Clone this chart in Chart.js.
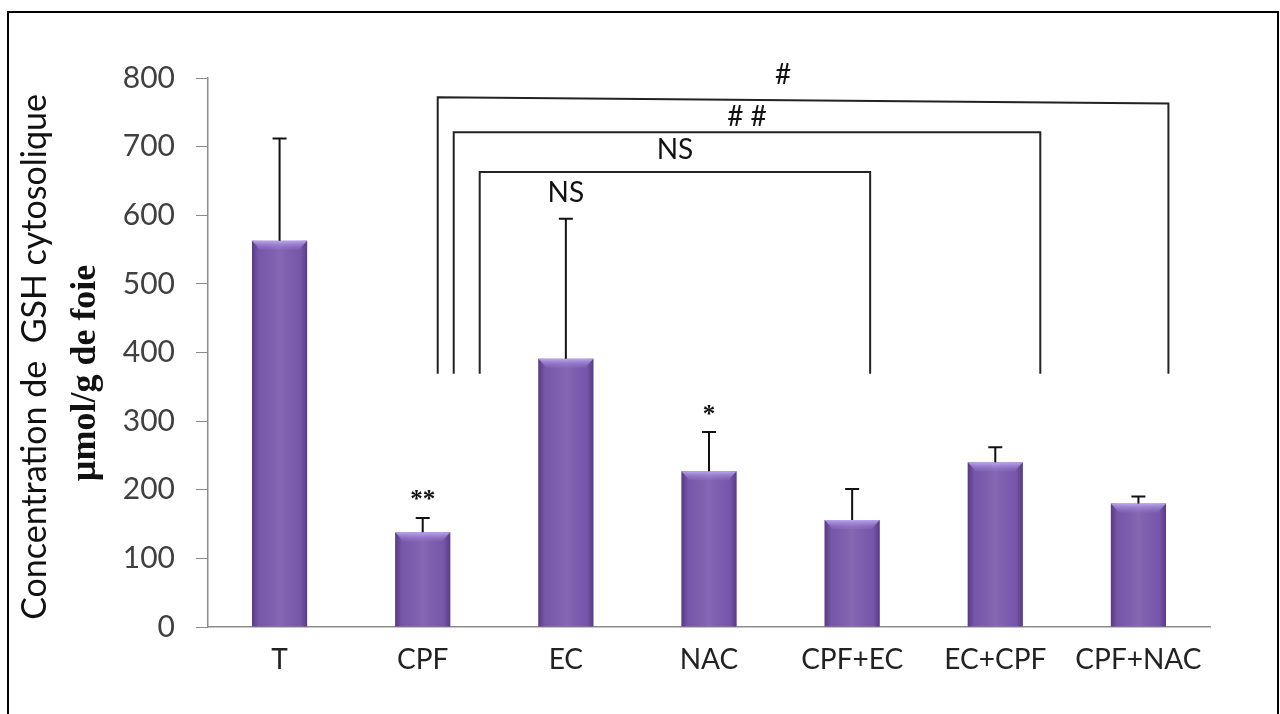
<!DOCTYPE html>
<html>
<head>
<meta charset="utf-8">
<script src="https://cdn.jsdelivr.net/npm/chart.js@4.4.0/dist/chart.umd.min.js"></script>
<style>
  html, body { margin: 0; padding: 0; background: #fff; overflow: hidden; }
  #wrap { position: relative; width: 1280px; height: 714px; }
  #frame { position: absolute; left: 7px; top: 11px; width: 1268px; height: 720px;
           border: 2px solid #000; border-bottom: none; pointer-events: none; }
</style>
</head>
<body>
<div id="wrap">
  <canvas id="gshChart" width="1280" height="714"></canvas>
  <div id="frame"></div>
</div>
<script>
const groups = ['T', 'CPF', 'EC', 'NAC', 'CPF+EC', 'EC+CPF', 'CPF+NAC'];
const gshMeans = [563, 138, 391, 227, 156, 240, 180];
const gshErrors = [149, 21, 204, 57, 45, 22, 10];
const starMarks = ['', '**', 'NS', '*', '', '', ''];
const yTicks = [0, 100, 200, 300, 400, 500, 600, 700, 800];

// comparison brackets: from group, to group, top level (left, right), bottom level, label
const brackets = [
    { from: 1, to: 6, top: [772, 763], bottom: 369, label: '#' },
    { from: 1, to: 5, top: [721, 721], bottom: 369, label: '# #' },
    { from: 1, to: 4, top: [663, 663], bottom: 369, label: 'NS' }
];

// pixel nudges so the bracket legs do not sit on each other
const legOffsets = [[15, 30], [31, 45], [57, 18]];

const bevelPlugin = {
    id: 'bevel',
    afterDatasetsDraw(chart) {
        const ctx = chart.ctx;
        chart.getDatasetMeta(0).data.forEach(bar => {
            const w = bar.width;
            const left = bar.x - w / 2;
            const top = bar.y;
            const h = bar.base - bar.y;
            ctx.save();
            const g = ctx.createLinearGradient(left, 0, left + w, 0);
            g.addColorStop(0, 'rgba(45,20,80,0.45)');
            g.addColorStop(0.12, 'rgba(45,20,80,0.05)');
            g.addColorStop(0.5, 'rgba(255,255,255,0.08)');
            g.addColorStop(0.88, 'rgba(45,20,80,0.05)');
            g.addColorStop(1, 'rgba(45,20,80,0.45)');
            ctx.fillStyle = g;
            ctx.fillRect(left, top, w, h);
            // top bevel
            const bh = Math.min(9, h);
            const tg = ctx.createLinearGradient(0, top, 0, top + bh);
            tg.addColorStop(0, 'rgba(190,170,240,0.95)');
            tg.addColorStop(1, 'rgba(150,120,210,0.2)');
            ctx.fillStyle = tg;
            ctx.beginPath();
            ctx.moveTo(left, top);
            ctx.lineTo(left + w, top);
            ctx.lineTo(left + w - 8, top + bh);
            ctx.lineTo(left + 8, top + bh);
            ctx.closePath();
            ctx.fill();
            ctx.restore();
        });
    }
};

const errorPlugin = {
    id: 'errors',
    afterDatasetsDraw(chart) {
        const ctx = chart.ctx;
        const y = chart.scales.y;
        ctx.save();
        ctx.strokeStyle = '#111';
        ctx.lineWidth = 2;
        chart.getDatasetMeta(0).data.forEach((bar, i) => {
            const yTop = y.getPixelForValue(gshMeans[i] + gshErrors[i]);
            ctx.beginPath();
            ctx.moveTo(bar.x, bar.y);
            ctx.lineTo(bar.x, yTop);
            ctx.moveTo(bar.x - 7, yTop);
            ctx.lineTo(bar.x + 7, yTop);
            ctx.stroke();
            if (starMarks[i]) {
                ctx.fillStyle = '#111';
                ctx.textAlign = 'center';
                ctx.textBaseline = 'middle';
                ctx.font = starMarks[i] === 'NS' ? '28px Lato' : 'bold 25px "Liberation Serif"';
                ctx.fillText(starMarks[i], bar.x, yTop - (starMarks[i] === 'NS' ? 26 : 17));
            }
        });
        ctx.restore();
    }
};

const bracketPlugin = {
    id: 'brackets',
    afterDraw(chart) {
        const ctx = chart.ctx;
        const x = chart.scales.x;
        const y = chart.scales.y;
        ctx.save();
        ctx.strokeStyle = '#222';
        ctx.lineWidth = 2;
        ctx.fillStyle = '#111';
        ctx.font = '28px Lato';
        ctx.textAlign = 'center';
        ctx.textBaseline = 'middle';
        brackets.forEach((b, k) => {
            const x1 = x.getPixelForValue(b.from) + legOffsets[k][0];
            const x2 = x.getPixelForValue(b.to) + legOffsets[k][1];
            const yL = y.getPixelForValue(b.top[0]);
            const yR = y.getPixelForValue(b.top[1]);
            const yB = y.getPixelForValue(b.bottom);
            ctx.beginPath();
            ctx.moveTo(x1, yB);
            ctx.lineTo(x1, yL);
            ctx.lineTo(x2, yR);
            ctx.lineTo(x2, yB);
            ctx.stroke();
            const mid = (x1 + x2) / 2 - (k === 0 ? 20 : 0);
            ctx.fillText(b.label, mid, Math.min(yL, yR) - (k === 1 ? 15 : 22));
        });
        ctx.restore();
    }
};

const titlePlugin = {
    id: 'yTitle',
    afterDraw(chart) {
        const ctx = chart.ctx;
        ctx.save();
        ctx.fillStyle = '#111';
        ctx.textAlign = 'center';
        ctx.textBaseline = 'middle';
        ctx.translate(35, 357);
        ctx.rotate(-Math.PI / 2);
        ctx.font = '34px Lato';
        ctx.fillText('Concentration de  GSH cytosolique', 0, 0);
        ctx.restore();
        ctx.save();
        ctx.fillStyle = '#111';
        ctx.textAlign = 'center';
        ctx.textBaseline = 'middle';
        ctx.translate(86, 373);
        ctx.rotate(-Math.PI / 2);
        ctx.font = 'bold 36px "Liberation Serif"';
        ctx.fillText('µmol/g de foie', 0, 0);
        ctx.restore();
    }
};

new Chart(document.getElementById('gshChart'), {
    type: 'bar',
    data: {
        labels: groups,
        datasets: [{
            data: gshMeans,
            backgroundColor: '#7b5aae',
            borderWidth: 0,
            barPercentage: 0.385,
            categoryPercentage: 1
        }]
    },
    options: {
        responsive: false,
        animation: false,
        layout: { padding: { left: 0, top: 78, right: 70, bottom: 0 } },
        plugins: { legend: { display: false }, tooltip: { enabled: false } },
        scales: {
            x: {
                grid: { display: false },
                border: { display: true, color: '#8c8c8c', width: 1.5 },
                ticks: { color: '#222', font: { family: 'Lato', size: 28 }, padding: 8, maxRotation: 0 },
                afterFit(scale) { scale.height = 87; }
            },
            y: {
                min: 0,
                max: 800,
                afterBuildTicks(scale) { scale.ticks = yTicks.map(v => ({ value: v })); },
                grid: { drawOnChartArea: false, drawTicks: true, tickLength: 12, color: '#8c8c8c' },
                border: { display: true, color: '#8c8c8c', width: 1.5 },
                ticks: { color: '#404040', font: { family: 'Lato', size: 30 }, padding: 21 },
                afterFit(scale) { scale.width = 208; }
            }
        }
    },
    plugins: [bevelPlugin, errorPlugin, bracketPlugin, titlePlugin]
});
</script>
</body>
</html>
